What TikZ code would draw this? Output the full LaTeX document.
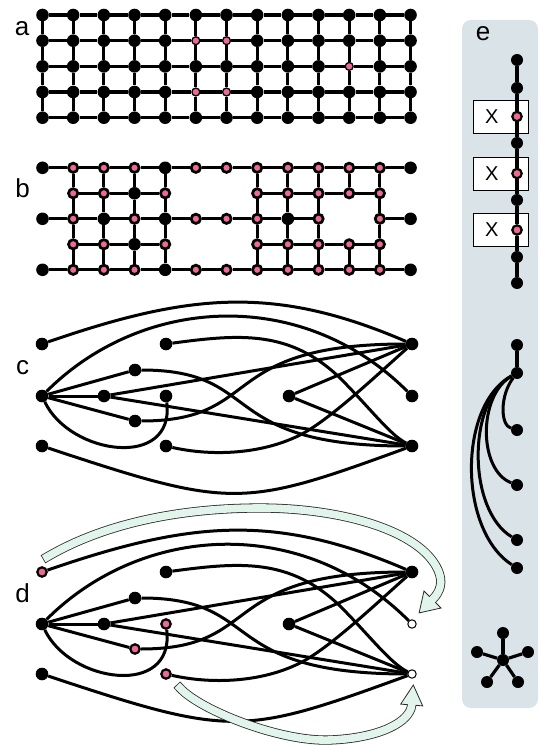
\documentclass[tikz,border=0pt]{standalone}
\usepackage{fontspec}
\setmainfont{Liberation Sans}
\definecolor{pinkc}{RGB}{238,106,146}
\definecolor{panelc}{RGB}{217,227,232}
\definecolor{mint}{RGB}{226,245,236}
\definecolor{outl}{RGB}{40,40,40}
\newcommand\gpanel[1]{%
 \node[sL1] (#1L1) at (42,0) {};
 \node[sL2] (#1L2) at (42,52) {};
 \node[sL3] (#1L3) at (42,102) {};
 \node[sA] (#1A) at (135,26) {};
 \node[sB] (#1B) at (104,52) {};
 \node[sC] (#1C) at (135,77) {};
 \node[sM1] (#1M1) at (166,0) {};
 \node[sM2] (#1M2) at (166,52) {};
 \node[sM3] (#1M3) at (166,102) {};
 \node[sP] (#1P) at (289,52) {};
 \node[sR1] (#1R1) at (412,0) {};
 \node[sR2] (#1R2) at (412,52) {};
 \node[sR3] (#1R3) at (412,102) {};
 \draw[ed] (#1L1) .. controls (190,-51) and (275,-59) .. (#1R1);
 \draw[ed] (#1L2) .. controls (142,-48) and (302,-58) .. (#1R2);
 \draw[ed] (#1M1) .. controls (240,-10) and (290,-14) .. (340,34) .. controls (370,64) and (390,91) .. (#1R3);
 \draw[ed] (#1A) .. controls (265,26) and (215,102) .. (#1R3);
 \draw[ed] (#1C) .. controls (265,77) and (215,0) .. (#1R1);
 \draw[ed] (#1M3) .. controls (210,112) and (260,111) .. (300,91) .. controls (330,76) and (380,28) .. (#1R1);
 \draw[ed] (#1L3) .. controls (232,165) and (242,164) .. (#1R3);
 \draw[ed] (#1L2) .. controls (70,111) and (175,126) .. (#1M2);
 \draw[ed] (#1L2) -- (#1A);
 \draw[ed] (#1L2) -- (#1B);
 \draw[ed] (#1L2) -- (#1C);
 \draw[ed] (#1B) -- (#1R1);
 \draw[ed] (#1B) -- (#1R3);
 \draw[ed] (#1P) -- (#1R1);
 \draw[ed] (#1P) -- (#1R3);
}
\begin{document}
\begin{tikzpicture}[x=1pt,y=-1pt,
 bn/.style={circle,fill=black,inner sep=0pt,minimum size=12.6pt},
 en/.style={circle,fill=black,inner sep=0pt,minimum size=12pt},
 pa/.style={circle,fill=pinkc,draw=black,line width=1.3pt,inner sep=0pt,minimum size=7.9pt},
 pb/.style={circle,fill=pinkc,draw=black,line width=2.7pt,inner sep=0pt,minimum size=9.3pt},
 pd/.style={circle,fill=pinkc,draw=black,line width=2.2pt,inner sep=0pt,minimum size=9.4pt},
 wn/.style={circle,fill=white,draw=black,line width=1pt,inner sep=0pt,minimum size=8.4pt},
 gl/.style={line width=3.2pt},
 ed/.style={line width=3pt},
 lab/.style={font=\fontsize{26}{26}\selectfont,inner sep=0pt},
 xbox/.style={draw=black,fill=white,line width=0.9pt,minimum width=55pt,minimum height=33pt,inner sep=0pt,font=\fontsize{20}{20}\selectfont},
 sL1/.style=bn,sL2/.style=bn,sL3/.style=bn,sA/.style=bn,sB/.style=bn,sC/.style=bn,
 sM1/.style=bn,sM2/.style=bn,sM3/.style=bn,sP/.style=bn,sR1/.style=bn,sR2/.style=bn,sR3/.style=bn,
]
\useasboundingbox (0,0) rectangle (540,746);

% ---------- panel e background
\fill[panelc,rounded corners=9pt] (462,20) rectangle (538,708);

% ---------- panel a
\node[lab] (la) at (22,29) {a};
\foreach \j/\y in {1/15,2/40.7,3/66.4,4/92,5/117.7} {
  \foreach \i in {1,...,13} {
    \def\st{bn}%
    \ifnum\j=2 \ifnum\i=6 \def\st{pa}\fi \ifnum\i=7 \def\st{pa}\fi \fi
    \ifnum\j=4 \ifnum\i=6 \def\st{pa}\fi \ifnum\i=7 \def\st{pa}\fi \fi
    \ifnum\j=3 \ifnum\i=11 \def\st{pa}\fi \fi
    \node[\st] (a-\i-\j) at ({42.5+30.67*(\i-1)},\y) {};
  }
}
\foreach \j in {1,2,3,4,5} {
  \foreach \i in {1,...,12} {
    \pgfmathtruncatemacro\k{\i+1}
    \draw[gl] (a-\i-\j) -- (a-\k-\j);
  }
}
\foreach \i in {1,...,13} {
  \foreach \j in {1,2,3,4} {
    \pgfmathtruncatemacro\k{\j+1}
    \draw[gl] (a-\i-\j) -- (a-\i-\k);
  }
}

% ---------- panel b
\node[lab] (lb) at (22.7,188.3) {b};
\foreach \i/\t in {1/bn,2/pb,3/pb,4/pb,5/bn,6/pb,7/pb,8/pb,9/pb,10/pb,11/pb,12/pb,13/bn}
  \node[\t] (b-\i-1) at ({42.5+30.67*(\i-1)},167.8) {};
\foreach \i/\t in {2/pb,3/pb,4/bn,5/pb,8/pb,9/pb,10/pb,11/pb,12/pb}
  \node[\t] (b-\i-2) at ({42.5+30.67*(\i-1)},193.3) {};
\foreach \i/\t in {1/bn,2/pb,3/bn,4/pb,5/bn,6/pb,7/pb,8/pb,9/bn,10/pb,12/pb,13/bn}
  \node[\t] (b-\i-3) at ({42.5+30.67*(\i-1)},218.8) {};
\foreach \i/\t in {2/pb,3/pb,4/bn,5/pb,8/pb,9/pb,10/pb,11/pb,12/pb}
  \node[\t] (b-\i-4) at ({42.5+30.67*(\i-1)},244.3) {};
\foreach \i/\t in {1/bn,2/pb,3/pb,4/pb,5/bn,6/pb,7/pb,8/pb,9/pb,10/pb,11/pb,12/pb,13/bn}
  \node[\t] (b-\i-5) at ({42.5+30.67*(\i-1)},269.8) {};
\foreach \i in {1,...,12} {
  \pgfmathtruncatemacro\k{\i+1}
  \draw[gl] (b-\i-1) -- (b-\k-1);
  \draw[gl] (b-\i-5) -- (b-\k-5);
}
\foreach \i in {2,3,4,8,9,10,11} {
  \pgfmathtruncatemacro\k{\i+1}
  \draw[gl] (b-\i-2) -- (b-\k-2);
  \draw[gl] (b-\i-4) -- (b-\k-4);
}
\foreach \i in {1,2,3,4,5,6,7,8,9,12} {
  \pgfmathtruncatemacro\k{\i+1}
  \draw[gl] (b-\i-3) -- (b-\k-3);
}
\foreach \i in {2,3,4,5,8,9,10,12} {
  \foreach \j in {1,2,3,4} {
    \pgfmathtruncatemacro\k{\j+1}
    \draw[gl] (b-\i-\j) -- (b-\i-\k);
  }
}
\draw[gl] (b-11-1) -- (b-11-2);
\draw[gl] (b-11-4) -- (b-11-5);

% ---------- panel c
\node[lab] (lc) at (22.7,368) {c};
\begin{scope}[shift={(0,344)}]
\gpanel{c}
\end{scope}

% ---------- panel d
\node[lab] (ld) at (22.7,593.3) {d};
\begin{scope}[shift={(0,572)},sL1/.style=pd,sC/.style=pd,sM2/.style=pd,sM3/.style=pd,sR2/.style=wn,sR3/.style=wn]
\gpanel{d}
\end{scope}

% arrows in d
\draw[outl,line width=9.2pt,line cap=rect] (47,557) .. controls (110,520) and (190,508) .. (260,508) .. controls (340,508) and (420,530) .. (438,570) .. controls (443.4,582) and (440.5,591.5) .. (432.5,599.5);
\filldraw[fill=mint,draw=outl,line width=0.8pt] (419.1,612.9) -- (424,591) -- (441,608) -- cycle;
\draw[mint,line width=7.6pt,line cap=rect] (47,557) .. controls (110,520) and (190,508) .. (260,508) .. controls (340,508) and (420,530) .. (438,570) .. controls (443.4,582) and (440.5,591.5) .. (432.5,599.5);

\draw[outl,line width=9.2pt,line cap=rect] (180,688) .. controls (200,710) and (280,742) .. (330,740) .. controls (380,738) and (410,722) .. (411.7,705);
\filldraw[fill=mint,draw=outl,line width=0.8pt] (413.3,685) -- (400.7,704.1) -- (422.7,705.9) -- cycle;
\draw[mint,line width=7.6pt,line cap=rect] (180,688) .. controls (200,710) and (280,742) .. (330,740) .. controls (380,738) and (410,722) .. (411.7,705);

% ---------- panel e
\node[lab] (le) at (483,33.7) {e};
\node[xbox] (x1) at (500.5,116.5) {\makebox[31pt][l]{X}};
\node[xbox] (x2) at (500.5,173.5) {\makebox[31pt][l]{X}};
\node[xbox] (x3) at (500.5,230) {\makebox[31pt][l]{X}};
\foreach \n/\y/\t in {1/60/en,2/88/en,3/116.5/pd,4/143/en,5/173.5/pd,6/200/en,7/230/pd,8/257/en,9/283/en}
  \node[\t] (e\n) at (517,\y) {};
\foreach \n in {1,...,8} {
  \pgfmathtruncatemacro\k{\n+1}
  \draw[gl] (e\n) -- (e\k);
}

\node[en] (f0) at (517,345) {};
\node[en] (f1) at (517,373) {};
\node[en] (g1) at (517,430) {};
\node[en] (g2) at (517,485) {};
\node[en] (g3) at (517,540) {};
\node[en] (g4) at (517,568) {};
\draw[gl] (f0) -- (f1);
\draw[ed] (f1) .. controls (500,395) and (500,425) .. (g1);
\draw[ed] (f1) .. controls (478,395) and (478,470) .. (g2);
\draw[ed] (f1) .. controls (467,400) and (467,510) .. (g3);
\draw[ed] (f1) .. controls (458,405) and (458,530) .. (g4);

\node[en] (s0) at (503,660) {};
\node[en] (s1) at (503,633) {};
\node[en] (s2) at (477,652) {};
\node[en] (s3) at (528,652) {};
\node[en] (s4) at (487,682) {};
\node[en] (s5) at (518,682) {};
\foreach \n in {1,...,5} \draw[gl] (s0) -- (s\n);
\end{tikzpicture}
\end{document}
